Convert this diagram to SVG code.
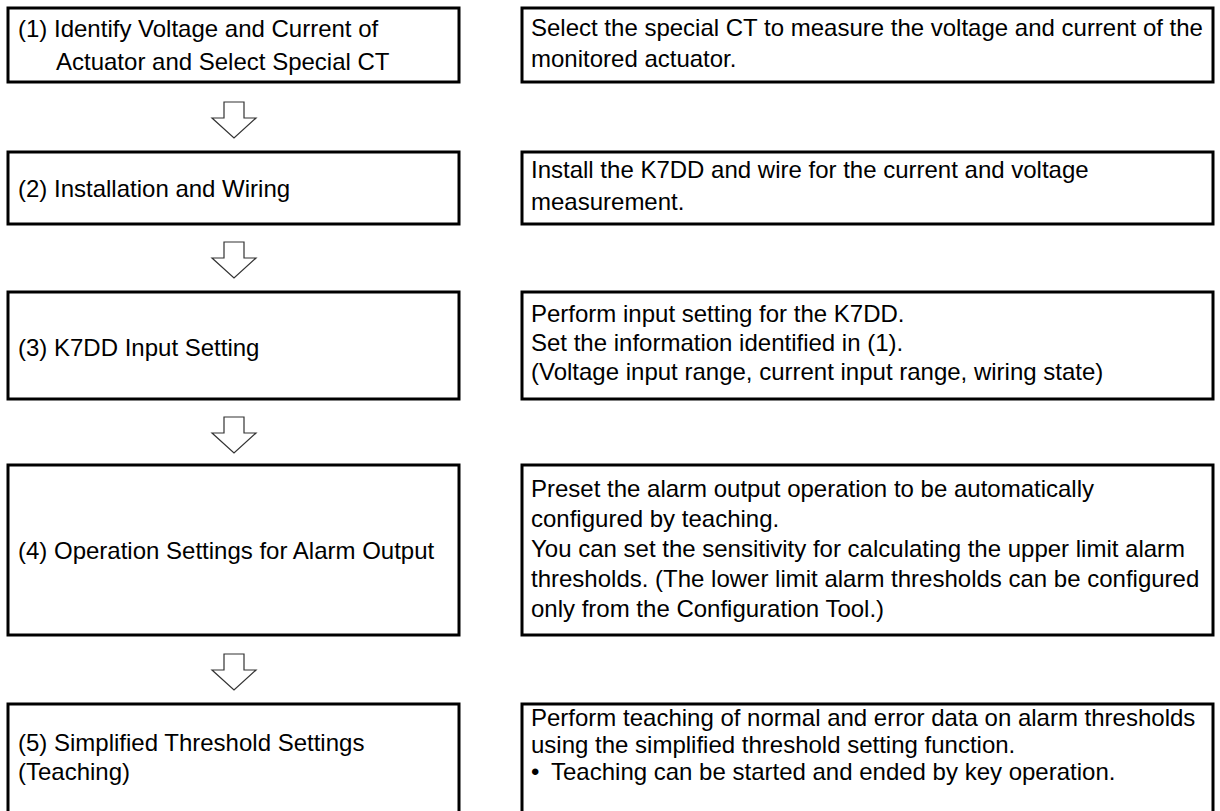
<svg xmlns="http://www.w3.org/2000/svg" width="1220" height="811" viewBox="0 0 1220 811">
<style>
.box{fill:#fff;stroke:#000;stroke-width:3}
.arr{fill:#fff;stroke:#333;stroke-width:1.2;stroke-linejoin:miter}
text{font-family:"Liberation Sans",Arial,sans-serif;font-size:24px;fill:#000}
</style>
<rect width="1220" height="811" fill="#fff"/>
<g id="connectors">
<path class="arr" d="M224,102 V118 H212 L234,138 L256,118 H244 V102 Z"/>
<path class="arr" d="M224,242 V258 H212 L234,278 L256,258 H244 V242 Z"/>
<path class="arr" d="M224,417 V433 H212 L234,453 L256,433 H244 V417 Z"/>
<path class="arr" d="M224,654 V670 H212 L234,690 L256,670 H244 V654 Z"/>
</g>
<g id="step1">
<rect class="box" x="8" y="8" width="451" height="74"/>
<text x="18" y="37">(1) Identify Voltage and Current of</text>
<text x="56" y="70">Actuator and Select Special CT</text>
</g>
<g id="desc1">
<rect class="box" x="522" y="8" width="691" height="74"/>
<text x="531" y="36">Select the special CT to measure the voltage and current of the</text>
<text x="531" y="67">monitored actuator.</text>
</g>
<g id="step2">
<rect class="box" x="8" y="152" width="451" height="72"/>
<text x="18" y="197">(2) Installation and Wiring</text>
</g>
<g id="desc2">
<rect class="box" x="522" y="152" width="691" height="72"/>
<text x="531" y="178">Install the K7DD and wire for the current and voltage</text>
<text x="531" y="210">measurement.</text>
</g>
<g id="step3">
<rect class="box" x="8" y="292" width="451" height="107"/>
<text x="18" y="356">(3) K7DD Input Setting</text>
</g>
<g id="desc3">
<rect class="box" x="522" y="292" width="691" height="107"/>
<text x="531" y="322">Perform input setting for the K7DD.</text>
<text x="531" y="351">Set the information identified in (1).</text>
<text x="531" y="380">(Voltage input range, current input range, wiring state)</text>
</g>
<g id="step4">
<rect class="box" x="8" y="465" width="451" height="170"/>
<text x="18" y="559">(4) Operation Settings for Alarm Output</text>
</g>
<g id="desc4">
<rect class="box" x="522" y="465" width="691" height="170"/>
<text x="531" y="497">Preset the alarm output operation to be automatically</text>
<text x="531" y="527">configured by teaching.</text>
<text x="531" y="557">You can set the sensitivity for calculating the upper limit alarm</text>
<text x="531" y="587">thresholds. (The lower limit alarm thresholds can be configured</text>
<text x="531" y="617">only from the Configuration Tool.)</text>
</g>
<g id="step5">
<rect class="box" x="8" y="704" width="451" height="120"/>
<text x="18" y="751">(5) Simplified Threshold Settings</text>
<text x="18" y="780">(Teaching)</text>
</g>
<g id="desc5">
<rect class="box" x="522" y="704" width="691" height="120"/>
<text x="531" y="726">Perform teaching of normal and error data on alarm thresholds</text>
<text x="531" y="753">using the simplified threshold setting function.</text>
<text x="531" y="780">•</text>
<text x="551" y="780">Teaching can be started and ended by key operation.</text>
</g>
</svg>
